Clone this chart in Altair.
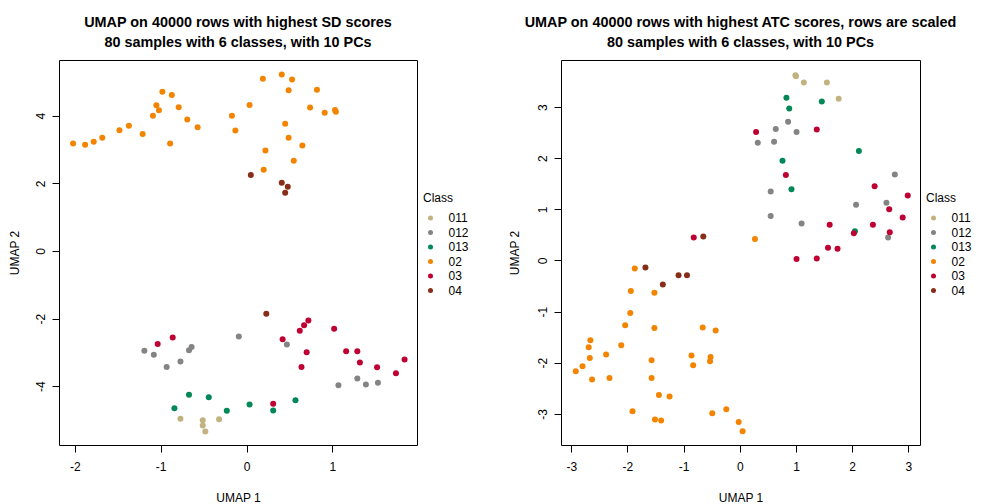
import altair as alt
import pandas as pd

classes = ["011", "012", "013", "02", "03", "04"]
colors = ["#C2B280", "#848482", "#008856", "#F38400", "#BE0032", "#882D17"]

# ---- Left panel: highest SD scores ----
sd_class = (["011"] * 5 + ["012"] * 12 + ["013"] * 7 + ["02"] * 34 + ["03"] * 16 + ["04"] * 5)
sd_x = [
    -0.77, -0.51, -0.51, -0.48, -0.32,
    -1.19, -1.08, -0.93, -0.77, -0.67, -0.64, -0.09, 0.47, 1.07, 1.29, 1.39, 1.53,
    -0.67, -0.44, -0.84, -0.23, 0.035, 0.31, 0.57,
    -2.02, -1.88, -1.78, -1.68, -1.48, -1.37, -1.21, -1.09, -1.05, -1.02, -0.98, -0.87,
    -0.89, -0.79, -0.69, -0.57, -0.17, -0.13, 0.035, 0.19, 0.41, 0.53, 0.49, 0.82,
    0.74, 0.91, 1.03, 1.04, 0.45, 0.49, 0.65, 0.22, 0.55, 0.20,
    -1.035, -0.86, 0.42, 0.62, 0.67, 0.72, 0.70, 0.64, 1.02, 1.16, 1.29, 1.32, 1.52, 1.74, 1.84, 0.31,
    0.05, 0.41, 0.48, 0.45, 0.23,
]
sd_y = [
    -4.96, -5.01, -5.16, -5.34, -4.98,
    -2.95, -3.07, -3.43, -3.27, -2.94, -2.84, -2.53, -2.77, -3.97, -3.77, -3.95, -3.90,
    -4.25, -4.33, -4.65, -4.73, -4.54, -4.72, -4.42,
    3.18, 3.14, 3.23, 3.35, 3.57, 3.70, 3.46, 4.00, 4.31, 4.16, 4.71, 4.61,
    3.18, 4.25, 3.89, 3.66, 4.00, 3.56, 4.32, 5.09, 5.22, 5.07, 4.75, 4.77,
    4.24, 4.09, 4.17, 4.12, 3.76, 3.35, 3.12, 2.97, 2.67, 2.40,
    -2.75, -2.56, -2.61, -2.36, -2.20, -2.06, -3.00, -3.43, -2.30, -2.97, -2.97, -3.30, -3.44, -3.62, -3.21, -4.52,
    2.25, 2.02, 1.90, 1.72, -1.86,
]

# ---- Right panel: highest ATC scores, rows scaled ----
atc_class = (["011"] * 5 + ["012"] * 12 + ["013"] * 7 + ["02"] * 33 + ["03"] * 16 + ["04"] * 5)
atc_x = [
    0.99, 1.14, 1.55, 1.76, 1.00,
    0.64, 0.86, 1.01, 0.32, 0.61, 0.55, 0.55, 1.10, 2.07, 2.76, 2.61, 2.64,
    0.83, 0.88, 1.46, 0.76, 0.92, 2.12, 2.05,
    0.27, -1.87, -1.94, -1.52, -1.95, -2.04, -1.52, -0.66, -0.43, -2.66, -2.69,
    -2.11, -2.38, -2.67, -2.80, -2.92, -2.63, -2.32, -1.57, -1.57, -0.86, -0.83,
    -0.52, -0.53, -1.44, -1.25, -1.91, -1.51, -1.40, -0.49, -0.24, -0.02, 0.05,
    0.29, 1.37, 0.82, 2.40, 2.99, 2.66, 2.90, 1.60, 2.37, 2.03, 2.67, 1.57, 1.74, -0.82, 1.01, 1.37,
    -0.65, -1.68, -1.09, -0.94, -1.37,
]
atc_y = [
    3.62, 3.48, 3.48, 3.16, 3.60,
    2.57, 2.71, 2.51, 2.30, 2.32, 1.35, 0.87, 0.72, 1.09, 1.68, 1.13, 0.45,
    3.18, 2.97, 3.11, 1.95, 1.39, 2.14, 0.57,
    0.42, -0.16, -0.60, -0.63, -1.03, -1.27, -1.32, -1.31, -1.37, -1.56, -1.70,
    -1.66, -1.84, -1.91, -2.07, -2.17, -2.33, -2.30, -1.95, -2.30, -1.86, -2.05,
    -1.89, -1.97, -2.63, -2.66, -2.95, -3.11, -3.13, -2.99, -2.91, -3.16, -3.34,
    2.51, 2.56, 1.67, 1.45, 1.27, 1.00, 0.84, 0.70, 0.70, 0.53, 0.55, 0.25, 0.23, 0.45, 0.03, 0.04,
    0.47, -0.14, -0.29, -0.29, -0.47,
]

sd_title = ["UMAP on 40000 rows with highest SD scores", "80 samples with 6 classes, with 10 PCs"]
atc_title = ["UMAP on 40000 rows with highest ATC scores, rows are scaled", "80 samples with 6 classes, with 10 PCs"]

FONT = "Liberation Sans"
LABEL = "'' + datum.value"


def panel(xs, ys, cs, title, xdom, ydom, xticks, yticks, w, h, ytitle_x):
    df = pd.DataFrame({"x": xs, "y": ys, "cls": cs})
    return alt.Chart(df).mark_circle(size=36, opacity=1).encode(
        x=alt.X("x:Q", scale=alt.Scale(domain=xdom, nice=False, zero=False),
                axis=alt.Axis(values=xticks, title="UMAP 1", labelPadding=9,
                              titleY=52, titleBaseline="middle", labelExpr=LABEL)),
        y=alt.Y("y:Q", scale=alt.Scale(domain=ydom, nice=False, zero=False),
                axis=alt.Axis(values=yticks, title="UMAP 2", labelAngle=270,
                              labelAlign="center", labelBaseline="alphabetic", labelPadding=8,
                              titleX=ytitle_x, titleY=h / 2, titleBaseline="middle",
                              titleAlign="center", titleAngle=270, labelExpr=LABEL)),
        color=alt.Color("cls:N", scale=alt.Scale(domain=classes, range=colors),
                        legend=alt.Legend(title="Class", orient="none", legendX=w + 6,
                                          legendY=133, symbolSize=25, symbolOffset=1.5,
                                          labelOffset=12, rowPadding=2.5, titlePadding=7,
                                          padding=0, labelFontSize=12, titleFontSize=12,
                                          titleFontWeight="normal", labelFont=FONT,
                                          titleFont=FONT, labelColor="#000", titleColor="#000",
                                          symbolStrokeWidth=0)),
    ).properties(
        width=w, height=h,
        title=alt.TitleParams(text=title, fontSize=14.4, fontWeight="bold", font=FONT,
                              anchor="middle", frame="group", offset=10, lineHeight=20,
                              color="#000"),
    )


left = panel(sd_x, sd_y, sd_class, sd_title, [-2.184, 1.985], [-5.74, 5.648],
             [-2, -1, 0, 1], [-4, -2, 0, 2, 4], 358, 385, -45)
right = panel(atc_x, atc_y, atc_class, atc_title, [-3.183, 3.208], [-3.61, 3.92],
              [-3, -2, -1, 0, 1, 2, 3], [-3, -2, -1, 0, 1, 2, 3], 359, 385, -47)

chart = alt.hconcat(left, right, spacing=37).resolve_scale(color="independent").properties(
    padding={"left": -1, "top": 6, "right": 0, "bottom": 0}
).configure_view(stroke="#000", strokeWidth=1).configure_axis(
    grid=False, domain=False, tickColor="#000", tickSize=7, tickWidth=1,
    labelFont=FONT, titleFont=FONT, labelFontSize=12, titleFontSize=12,
    labelColor="#000", titleColor="#000", titleFontWeight="normal",
)

chart.save("out.html", embed_options={"renderer": "svg", "actions": False})
